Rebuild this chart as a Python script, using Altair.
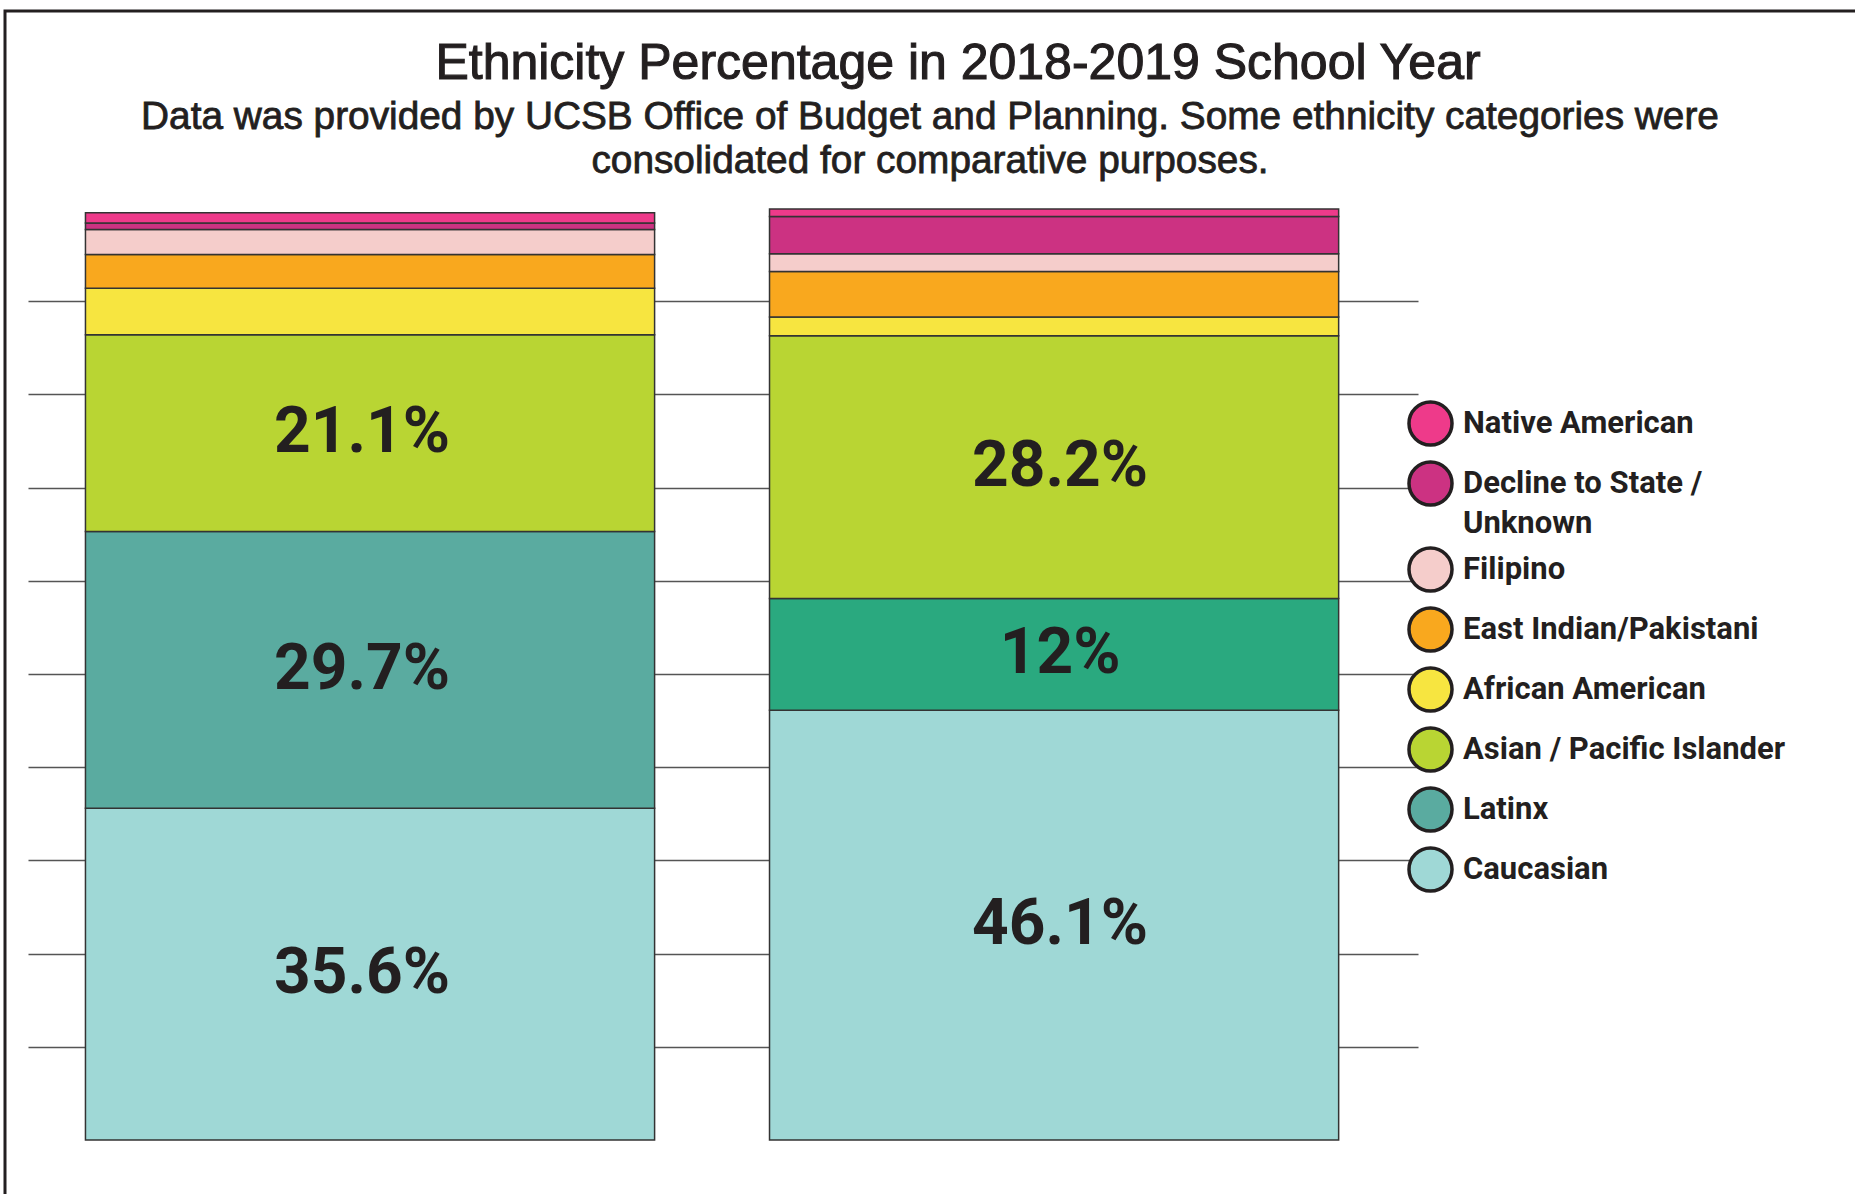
import altair as alt
import pandas as pd

# ---------------- data ----------------
groups = ["Group 1", "Group 2"]
categories = [
    "Caucasian",
    "Latinx",
    "Asian / Pacific Islander",
    "African American",
    "East Indian/Pakistani",
    "Filipino",
    "Decline to State / Unknown",
    "Native American",
]
values_g1 = [35.6, 29.7, 21.1, 5.0, 3.6, 2.7, 0.7, 1.1]
values_g2 = [46.1, 12.0, 28.2, 2.0, 4.9, 1.9, 4.0, 0.8]
labels_g1 = ["35.6%", "29.7%", "21.1%", "", "", "", "", ""]
labels_g2 = ["46.1%", "12%", "28.2%", "", "", "", "", ""]

legend_order = list(reversed(categories))
colors = {
    "Native American": "#EE3A8A",
    "Decline to State / Unknown": "#CC3282",
    "Filipino": "#F5CDCB",
    "East Indian/Pakistani": "#F9A81E",
    "African American": "#F7E540",
    "Asian / Pacific Islander": "#B9D533",
    "Latinx": "#5AABA0",
    "Caucasian": "#9FD8D6",
}
latinx_g2_key = "Latinx (second bar)"
latinx_g2_color = "#2AA97F"

title_text = "Ethnicity Percentage in 2018-2019 School Year"
subtitle_lines = [
    "Data was provided by UCSB Office of Budget and Planning. Some ethnicity categories were",
    "consolidated for comparative purposes.",
]

# ---------------- table ----------------
rows = []
for g, vals, labs in [(groups[0], values_g1, labels_g1), (groups[1], values_g2, labels_g2)]:
    cum = 0.0
    for i, (c, v, lab) in enumerate(zip(categories, vals, labs)):
        key = c
        if g == groups[1] and c == "Latinx":
            key = latinx_g2_key
        rows.append(
            dict(group=g, category=c, key=key, value=v, rank=i,
                 label=lab, mid=cum + v / 2.0)
        )
        cum += v
df = pd.DataFrame(rows)

color_domain = legend_order + [latinx_g2_key]
color_range = [colors[c] for c in legend_order] + [latinx_g2_color]

FONT_COND = "Roboto, Liberation Sans, sans-serif"
FONT_TITLE = "Liberation Sans, Arial, Helvetica, sans-serif"
INK = "#231F20"

x_scale = alt.Scale(domain=groups, paddingInner=0.168, paddingOuter=0.10, align=0.42)

bars = alt.Chart(df).mark_bar(stroke="#333333", strokeWidth=1.5, opacity=1).encode(
    x=alt.X("group:N", scale=x_scale, axis=None),
    y=alt.Y(
        "value:Q",
        stack="zero",
        scale=alt.Scale(domain=[0, 100], nice=False),
        axis=alt.Axis(
            values=[10, 20, 30, 40, 50, 60, 70, 80, 90],
            labels=False, ticks=False, domain=False, title=None,
            grid=True, gridColor="#555555", gridWidth=1.5,
        ),
    ),
    color=alt.Color(
        "key:N",
        scale=alt.Scale(domain=color_domain, range=color_range),
        legend=alt.Legend(
            values=legend_order,
            title=None,
            orient="none",
            legendX=1379,
            legendY=192,
            symbolType="circle",
            symbolSize=1850,
            symbolStrokeColor=INK,
            symbolStrokeWidth=3.5,
            symbolOpacity=1,
            labelFont=FONT_COND,
            labelFontSize=31,
            labelFontWeight="bold",
            labelColor=INK,
            labelLimit=0,
            labelOffset=9,
            rowPadding=1,
            padding=0,
            labelExpr="datum.label == 'Decline to State / Unknown' ? ['Decline to State /', 'Unknown'] : datum.label",
        ),
    ),
    order=alt.Order("rank:Q", sort="ascending"),
)


def pct_text(group, shift):
    return alt.Chart(df).transform_filter(
        f"datum.label != '' && datum.group == '{group}'"
    ).mark_text(
        font=FONT_COND, fontSize=64, fontWeight="bold", color=INK,
        align="center", baseline="middle", dx=shift,
    ).encode(
        x=alt.X("group:N", scale=x_scale, axis=None),
        y=alt.Y("mid:Q"),
        text="label:N",
    )


texts1 = pct_text(groups[0], -8)
texts2 = pct_text(groups[1], 6)

one = pd.DataFrame({"f": [0]})

frame = alt.Chart(one).mark_rect(
    fill=None, stroke=INK, strokeWidth=3
).encode(
    x=alt.value(-23), x2=alt.value(1900),
    y=alt.value(-197), y2=alt.value(1300),
)

title_mark = alt.Chart(one).mark_text(
    text=title_text, font=FONT_TITLE, fontSize=50, color=INK,
    stroke=INK, strokeWidth=1.1,
    align="center", baseline="alphabetic",
).encode(x=alt.value(930), y=alt.value(-129))

sub1 = alt.Chart(one).mark_text(
    text=subtitle_lines[0], font=FONT_TITLE, fontSize=38.8, color=INK,
    stroke=INK, strokeWidth=0.8,
    align="center", baseline="alphabetic",
).encode(x=alt.value(902), y=alt.value(-79))

sub2 = alt.Chart(one).mark_text(
    text=subtitle_lines[1], font=FONT_TITLE, fontSize=38.8, color=INK,
    stroke=INK, strokeWidth=0.8,
    align="center", baseline="alphabetic",
).encode(x=alt.value(902), y=alt.value(-35))

chart = alt.layer(frame, bars, texts1, texts2, title_mark, sub1, sub2).properties(
    width=1390,
    height=932,
    background="white",
    autosize=alt.AutoSizeParams(type="none"),
    padding={"left": 28, "top": 208, "right": 437, "bottom": 54},
).configure(
    style={"guide-label": {"lineHeight": 40}},
    view=alt.ViewConfig(strokeWidth=0, stroke="transparent"),
)

chart.save("out.html", embed_options={"renderer": "svg", "actions": False})
